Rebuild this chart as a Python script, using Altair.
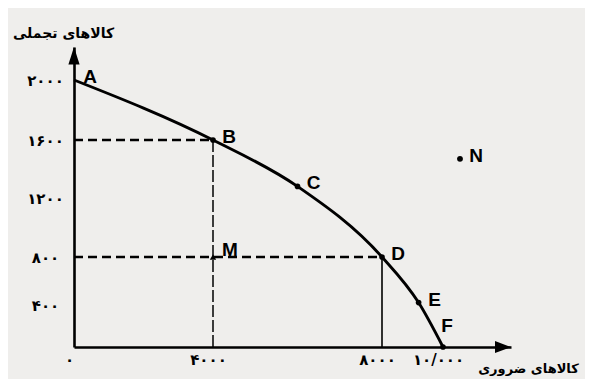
import altair as alt
import pandas as pd

# ---- data ----
curve_labels = ["A", "B", "C", "D", "E", "F"]
curve_x = [0, 4000, 6000, 8000, 9200, 10000]      # کالاهای ضروری
curve_y = [2000, 1600, 1280, 800, 420, 0]          # کالاهای تجملی

other_labels = ["M", "N"]
other_x = [4000, 10500]
other_y = [800, 1470]

# points whose coordinates are marked with guide lines
guide_labels = ["B", "D"]

x_ticks = [0, 4000, 8000, 10000]
x_tick_labels = ["۰", "۴۰۰۰", "۸۰۰۰", "۱۰/۰۰۰"]
y_ticks = [400, 800, 1200, 1600, 2000]
y_tick_labels = ["۴۰۰", "۸۰۰", "۱۲۰۰", "۱۶۰۰", "۲۰۰۰"]

x_title = "کالاهای ضروری"
y_title = "کالاهای تجملی"

x_end = 12000   # end of the drawn x axis (arrow)
y_end = 2350    # end of the drawn y axis (arrow)

# ---- layout (hand-drawn axes are not evenly spaced) ----
W, H = 437, 300
x_dom = [0, 4000, 8000, 10000, x_end]
x_rng = [0, 139, 308, 369, W]
y_dom = [0, 400, 800, 1200, 1600, 2000, y_end]
y_rng = [H, 258, 210, 151, 93, 33, 0]

LAT_FONT = "Liberation Sans Narrow, Liberation Sans"
FA_FONT = "DejaVu Sans"


def lab_expr(vals, labs):
    expr = "''"
    for v, l in reversed(list(zip(vals, labs))):
        expr = f"datum.value == {v} ? '{l}' : ({expr})"
    return expr


x_scale = alt.Scale(domain=x_dom, range=x_rng, nice=False, zero=False)
y_scale = alt.Scale(domain=y_dom, range=y_rng, nice=False, zero=False)

x_axis = alt.Axis(
    values=x_ticks, labelExpr=lab_expr(x_ticks, x_tick_labels),
    domain=True, domainColor="black", domainWidth=2.6,
    ticks=False, grid=False, labelFlush=False, labelOverlap=False,
    labelFont=FA_FONT, labelFontSize=15, labelFontWeight="bold",
    labelColor="black", labelPadding=5, labelOffset=-5, labelAlign="center",
    title=x_title, titleFont=FA_FONT, titleFontSize=13, titleFontWeight="bold",
    titleColor="black", titleAngle=0, titleAlign="center", titleBaseline="middle",
    titleX=454, titleY=21,
)
y_axis = alt.Axis(
    values=y_ticks, labelExpr=lab_expr(y_ticks, y_tick_labels),
    domain=True, domainColor="black", domainWidth=2.6,
    ticks=False, grid=False, labelFlush=False, labelOverlap=False,
    labelFont=FA_FONT, labelFontSize=15, labelFontWeight="bold",
    labelColor="black", labelPadding=29, labelAlign="center",
    title=y_title, titleFont=FA_FONT, titleFontSize=14, titleFontWeight="bold",
    titleColor="black", titleAngle=0, titleAlign="center", titleBaseline="middle",
    titleX=-11, titleY=-14,
)


def X(field):
    return alt.X(f"{field}:Q", scale=x_scale, axis=x_axis)


def Y(field):
    return alt.Y(f"{field}:Q", scale=y_scale, axis=y_axis)


curve = pd.DataFrame({"label": curve_labels, "x": curve_x, "y": curve_y})
others = pd.DataFrame({"label": other_labels, "x": other_x, "y": other_y})
allpts = pd.concat([curve, others], ignore_index=True)
guides = curve[curve["label"].isin(guide_labels)].copy()
guides["x0"] = 0
guides["y0"] = 0
arrows = pd.DataFrame({"axis": ["x", "y"], "x": [x_end, 0], "y": [0, y_end]})

line = alt.Chart(curve).mark_line(
    interpolate="monotone", color="black", strokeWidth=2.9
).encode(x=X("x"), y=Y("y"), order="x:Q")

h_guides = alt.Chart(guides).mark_rule(
    color="black", strokeWidth=2.4, strokeDash=[9, 5]
).encode(x=X("x0"), x2="x:Q", y=Y("y"))

v_guide_b = alt.Chart(guides).transform_filter("datum.label == 'B'").mark_rule(
    color="black", strokeWidth=1.5, strokeDash=[12, 3]
).encode(x=X("x"), y=Y("y0"), y2="y:Q")

v_guide_d = alt.Chart(guides).transform_filter("datum.label == 'D'").mark_rule(
    color="black", strokeWidth=1.6
).encode(x=X("x"), y=Y("y0"), y2="y:Q")

dots = alt.Chart(curve).transform_filter("datum.label != 'A'").mark_circle(
    size=32, color="black", opacity=1
).encode(x=X("x"), y=Y("y"))

n_dot = alt.Chart(others).transform_filter("datum.label == 'N'").mark_circle(
    size=34, color="black", opacity=1
).encode(x=X("x"), y=Y("y"))

m_mark = alt.Chart(others).transform_filter("datum.label == 'M'").mark_point(
    shape="triangle-up", size=40, filled=True, color="black", opacity=1
).encode(x=X("x"), y=Y("y"))

txt_style = dict(font=LAT_FONT, fontSize=19, fontWeight="bold", color="black",
                 align="center", baseline="middle")

labels_main = alt.Chart(allpts).transform_filter(
    "datum.label != 'F' && datum.label != 'M'"
).mark_text(dx=16, dy=-3, **txt_style).encode(x=X("x"), y=Y("y"), text="label:N")

label_f = alt.Chart(allpts).transform_filter("datum.label == 'F'").mark_text(
    dx=4, dy=-21, **txt_style).encode(x=X("x"), y=Y("y"), text="label:N")

label_m = alt.Chart(allpts).transform_filter("datum.label == 'M'").mark_text(
    dx=17, dy=-7, **txt_style).encode(x=X("x"), y=Y("y"), text="label:N")

arrow_x = alt.Chart(arrows).transform_filter("datum.axis == 'x'").mark_point(
    shape="M0,0L-2,-0.75L-2,0.75Z", size=256, filled=True, color="black",
    opacity=1, strokeWidth=0
).encode(x=X("x"), y=Y("y"))

arrow_y = alt.Chart(arrows).transform_filter("datum.axis == 'y'").mark_point(
    shape="M0,0L-0.7,2.2L0.7,2.2Z", size=256, filled=True, color="black",
    opacity=1, strokeWidth=0
).encode(x=X("x"), y=Y("y"))

chart = alt.layer(
    h_guides, v_guide_b, v_guide_d, line, dots, n_dot, m_mark,
    labels_main, label_f, label_m, arrow_x, arrow_y
).properties(
    width=W, height=H,
    autosize=alt.AutoSizeParams(type="none"),
    padding={"left": 66, "top": 39, "right": 74, "bottom": 32},
    background="#efeeec",
).configure_view(stroke=None)

chart.save("out.html", embed_options={"renderer": "svg", "actions": False})
